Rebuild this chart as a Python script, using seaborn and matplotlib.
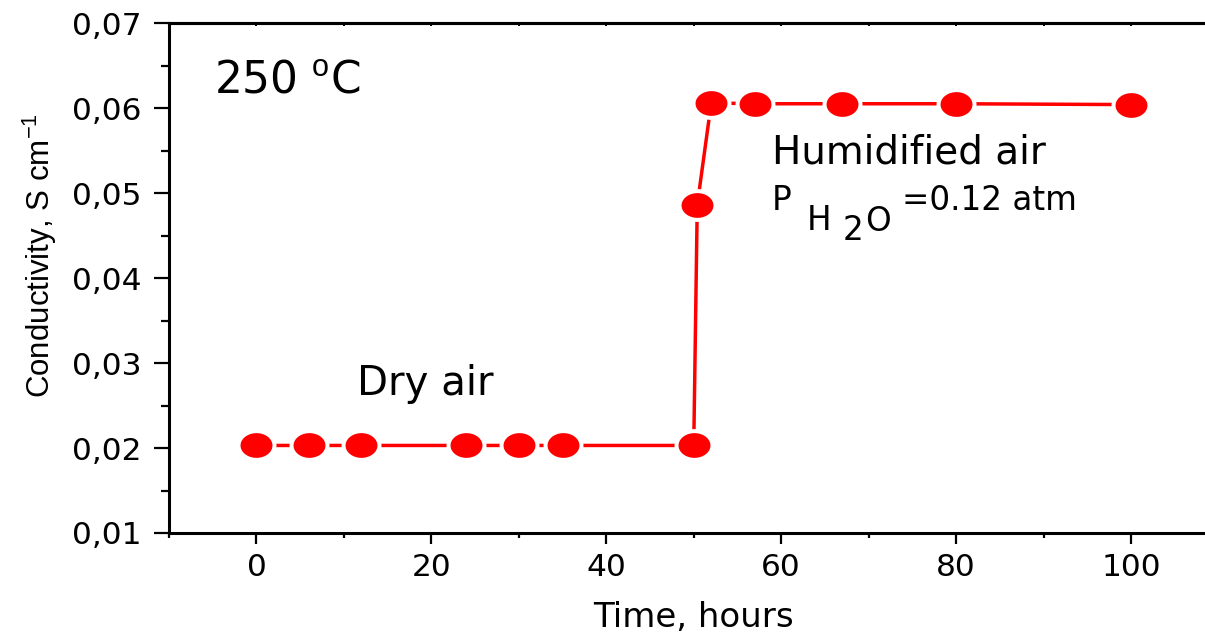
import numpy as np
import matplotlib
matplotlib.use("Agg")
import matplotlib.pyplot as plt
from matplotlib.path import Path
from matplotlib.ticker import MultipleLocator, FuncFormatter
import seaborn as sns

# Conductivity vs. time at 250 °C (dry air, then humidified air)
time_h = [0, 6, 12, 24, 30, 35, 50, 50.4, 52, 57, 67, 80, 100]
conductivity = [0.0203, 0.0203, 0.0203, 0.0203, 0.0203, 0.0203, 0.0203,
                0.0486, 0.0606, 0.0605, 0.0605, 0.0605, 0.0604]

x_major = [0, 20, 40, 60, 80, 100]
y_major = [0.01, 0.02, 0.03, 0.04, 0.05, 0.06, 0.07]

sns.set_theme(style="ticks")
plt.rcParams.update({
    "font.family": ["DejaVu Sans"],
    "mathtext.fontset": "custom",
    "mathtext.rm": "Liberation Sans",
    "mathtext.it": "Liberation Sans:italic",
    "mathtext.bf": "Liberation Sans:bold",
    "axes.edgecolor": "black",
    "axes.labelcolor": "black",
    "text.color": "black",
    "xtick.color": "black",
    "ytick.color": "black",
})

fig = plt.figure(figsize=(12.05, 6.32), dpi=100)
fig.patch.set_facecolor("white")
ax = fig.add_axes([169 / 1205, 1 - 533 / 632, (1218.5 - 169) / 1205, 510 / 632])
ax.set_facecolor("white")

# wide elliptical symbol; the white rim leaves a gap between line and symbol
t = np.linspace(0, 2 * np.pi, 73)
ellipse = Path(np.column_stack([np.cos(t), 0.8 * np.sin(t)]), closed=True)

sns.lineplot(x=time_h, y=conductivity, sort=False, estimator=None, ax=ax,
             color="#ff0000", linewidth=2.5, marker=ellipse, markersize=25.9,
             markerfacecolor="#ff0000", markeredgecolor="white",
             markeredgewidth=2.9, clip_on=False, zorder=3)

ax.set_xlim(-10, 110)
ax.set_ylim(0.01, 0.07)
ax.set_xticks(x_major)
ax.set_yticks(y_major)
ax.xaxis.set_minor_locator(MultipleLocator(10))
ax.yaxis.set_minor_locator(MultipleLocator(0.005))
ax.yaxis.set_major_formatter(FuncFormatter(lambda v, p: f"{v:.2f}".replace(".", ",")))
ax.xaxis.set_major_formatter(FuncFormatter(lambda v, p: f"{v:.0f}"))

for side in ["left", "bottom", "top"]:
    ax.spines[side].set_linewidth(2.2)
    ax.spines[side].set_color("black")
ax.spines["right"].set_visible(False)

ax.tick_params(axis="y", which="major", direction="out", length=10.8, width=1.6,
               labelsize=22.5, pad=9)
ax.tick_params(axis="y", which="minor", direction="out", length=5.5, width=1.6)
ax.tick_params(axis="x", which="major", direction="out", length=7.7, width=1.6,
               labelsize=22.5, pad=7)
ax.tick_params(axis="x", which="minor", direction="out", length=3.4, width=1.6)

# short inward ticks along the top frame
top = ax.secondary_xaxis("top")
top.set_xticks(x_major)
top.xaxis.set_minor_locator(MultipleLocator(10))
top.tick_params(axis="x", which="both", direction="in", length=2.5, width=1.4,
                labeltop=False)
top.spines["top"].set_linewidth(2.2)

ax.set_xlabel("Time, hours", fontsize=24.5)
ax.xaxis.label.set_va("baseline")
ax.xaxis.set_label_coords(0.5, -94 / 510)

ax.set_ylabel("Conductivity, S cm$^{-1}$", fontsize=22.5, family="Liberation Sans")
ax.yaxis.label.set_va("center")
ax.yaxis.set_label_coords(-0.1229, 0.543)

# annotations
ax.text(-4.91, 0.06177, "250 $^{\\mathrm{o}}$C", fontsize=31.5, va="baseline")
ax.text(11.5, 0.02622, "Dry air", fontsize=29, va="baseline")
ax.text(58.93, 0.05351, "Humidified air", fontsize=28, va="baseline")
ax.text(58.9, 0.04796, "P", fontsize=23.5, va="baseline")
ax.text(62.93, 0.04560, "H", fontsize=23.5, va="baseline")
ax.text(67.04, 0.04442, "2", fontsize=23.5, va="baseline")
ax.text(69.55, 0.04548, "O", fontsize=23.5, va="baseline")
ax.text(73.78, 0.04796, "=0.12 atm", fontsize=23.5, va="baseline")

fig.savefig("out.png", dpi=100, facecolor="white")
